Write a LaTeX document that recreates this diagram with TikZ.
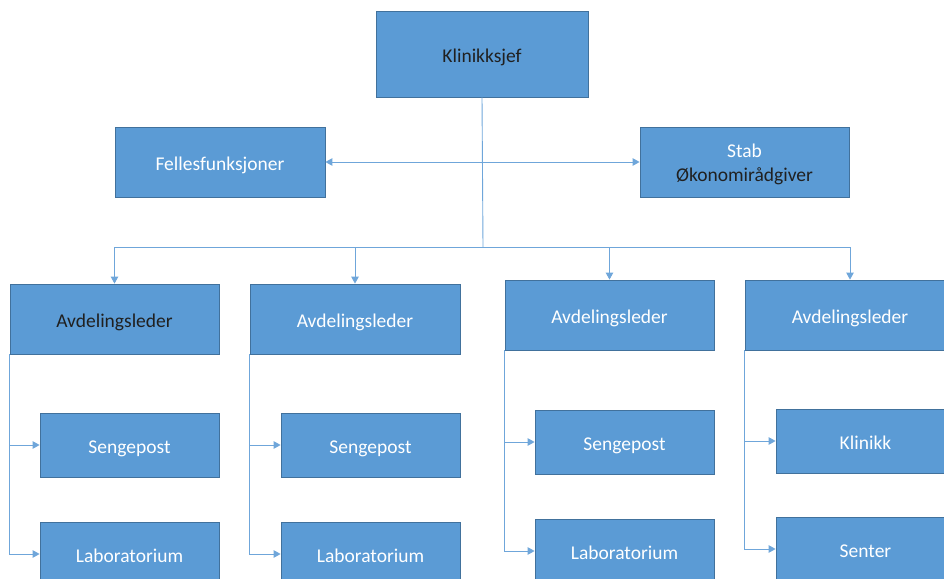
\documentclass[tikz,border=0pt]{standalone}
\usepackage{fontspec}
\setmainfont{Carlito}
\usetikzlibrary{arrows.meta}
\definecolor{boxblue}{HTML}{5B9BD5}
\definecolor{boxedge}{HTML}{41719C}
\definecolor{linkblue}{HTML}{6FA6DA}
\definecolor{textdark}{HTML}{202020}
\begin{document}
\begin{tikzpicture}[x=1pt,y=-1pt,
  unit/.style={rectangle, fill=boxblue, draw=boxedge, line width=0.8pt,
    inner sep=0pt, text=white, font=\fontsize{19.5}{24}\selectfont,
    align=center, minimum width=#1, text height=20pt, text depth=3.5pt},
  top/.style={unit=#1, minimum height=70pt},
  sub/.style={unit=179pt, minimum height=64pt},
  dark/.style={text=textdark},
  link/.style={draw=linkblue, line width=0.9pt},
  tip/.tip={Triangle[length=7pt,width=7.5pt]}]
\useasboundingbox (0,0) rectangle (944,578);
\clip (0,0) rectangle (944,578);

% management level
\node[unit=212pt, minimum height=86pt, dark] (chief) at (482,54) {Klinikksjef};
\node[top=210pt] (shared) at (220,162) {Fellesfunksjoner};
\node[top=209pt, text height=43pt, text depth=4pt] (staff) at (744.5,162)
  {Stab\\{\color{textdark}Økonomirådgiver}};

% department heads
\node[top=209pt, dark] (head1) at (114.5,319) {Avdelingsleder};
\node[top=210pt] (head2) at (355,319) {Avdelingsleder};
\node[top=209pt] (head3) at (609.5,315) {Avdelingsleder};
\node[top=210pt] (head4) at (850,315) {Avdelingsleder};

% units under each department
\node[sub] (ward1) at (129.5,445) {Sengepost};
\node[sub] (lab1)  at (129.5,554) {Laboratorium};
\node[sub] (ward2) at (370.5,445) {Sengepost};
\node[sub] (lab2)  at (370.5,554) {Laboratorium};
\node[sub] (ward3) at (624.5,442) {Sengepost};
\node[sub] (lab3)  at (624.5,551) {Laboratorium};
\node[sub] (clinic4) at (865.5,441) {Klinikk};
\node[sub] (centre4) at (865.5,549) {Senter};

% connectors
\coordinate (bus) at (483,247);
\draw[link] (chief.south) -- (bus);
\draw[link, tip-tip] (shared.east) -- (staff.west);
\foreach \h in {head1,head2,head3,head4}
  \draw[link, -tip] (bus) -| (\h.north);

\draw[link, -tip] (head1.south west) |- (ward1.west);
\draw[link, -tip] (head1.south west) |- (lab1.west);
\draw[link, -tip] (head2.south west) |- (ward2.west);
\draw[link, -tip] (head2.south west) |- (lab2.west);
\draw[link, -tip] (head3.south west) |- (ward3.west);
\draw[link, -tip] (head3.south west) |- (lab3.west);
\draw[link, -tip] (head4.south west) |- (clinic4.west);
\draw[link, -tip] (head4.south west) |- (centre4.west);
\end{tikzpicture}
\end{document}
